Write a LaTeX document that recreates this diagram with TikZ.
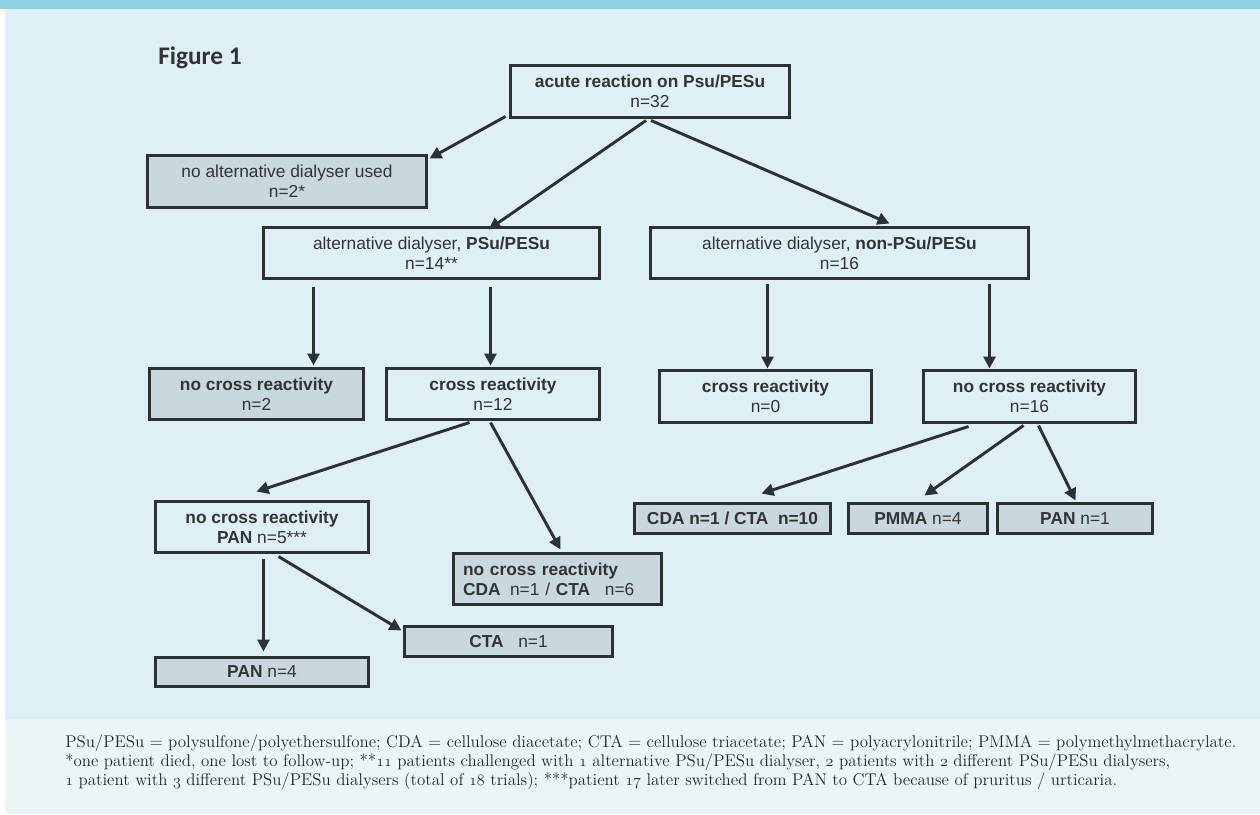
\documentclass[tikz,border=0pt]{standalone}
\usepackage{fontspec}
\usetikzlibrary{calc,arrows.meta}
\newfontfamily\boxfont{Liberation Sans}
\newfontfamily\figfont{Carlito}
\newcommand\osn[1]{{\fontencoding{OML}\fontfamily{lmm}\fontseries{m}\fontshape{it}\selectfont #1}}
\definecolor{topbar}{HTML}{8ECFE0}
\definecolor{panel}{HTML}{DEEFF6}
\definecolor{capbg}{HTML}{EBF5F8}
\definecolor{greyfill}{HTML}{C9D8DF}
\definecolor{ink}{HTML}{2E3134}
\definecolor{txt}{HTML}{333333}
\tikzset{
  box/.style={draw=ink, line width=2.2pt, rectangle, inner sep=0pt, outer sep=0pt,
    align=center, text=txt, font=\boxfont\fontsize{13}{15}\selectfont},
  wbox/.style={box, fill=panel},
  gbox/.style={box, fill=greyfill},
  arr/.style={draw=ink, line width=2.2pt, -{Triangle[length=9pt,width=9pt]}},
  captext/.style={anchor=base west, inner sep=0pt, text=black!85, font=\fontsize{12.7}{14}\selectfont},
}
\newcommand\bnode[7]{%
  \pgfmathsetmacro\bw{(#4-#2-3)*0.75}%
  \pgfmathsetmacro\bh{(#5-#3-3)*0.75}%
  \node[#6, minimum width=\bw pt, minimum height=\bh pt] (#1) at ({(#2+#4)/2},{(#3+#5)/2}) {#7};}
\begin{document}
\begin{tikzpicture}[x=0.75pt,y=-0.75pt]
\fill[white] (0,0) rectangle (1260,814);
\fill[topbar] (0,0) rectangle (1260,9);
\fill[panel] (5,9) rectangle (1260,719);
\fill[capbg] (5,719) rectangle (1260,814);
\useasboundingbox (0,0) rectangle (1260,814);

\node[anchor=base west, inner sep=0pt, text=txt, font=\figfont\bfseries\fontsize{19}{22}\selectfont] (fig) at (158,64) {Figure 1};

\bnode{top}{509}{64}{791}{119}{wbox}{\textbf{acute reaction on Psu/PESu}\\n=32}
\bnode{noalt}{146}{154}{428}{209}{gbox}{no alternative dialyser used\\n=2*}
\bnode{psu}{262}{226}{601}{280}{wbox}{alternative dialyser, \textbf{PSu/PESu}\\n=14**}
\bnode{nonpsu}{649}{226}{1030}{280}{wbox}{alternative dialyser, \textbf{non-PSu/PESu}\\n=16}
\bnode{ncr2}{148}{367}{365}{421}{gbox}{\textbf{no cross reactivity}\\n=2}
\bnode{cr12}{385}{367}{601}{421}{wbox}{\textbf{cross reactivity}\\n=12}
\bnode{cr0}{658}{369}{873}{424}{wbox}{\textbf{cross reactivity}\\n=0}
\bnode{ncr16}{922}{369}{1137}{424}{wbox}{\textbf{no cross reactivity}\\n=16}
\bnode{pan5}{154}{500}{370}{554}{wbox}{\textbf{no cross reactivity}\\\textbf{PAN} n=5***}
\bnode{ncrcda}{452}{552}{663}{606}{gbox,align=left,text width=141.75pt}{\textbf{no cross reactivity}\\\textbf{CDA}\hspace{0.55em}n=1 / \textbf{CTA}\hspace{0.85em}n=6}
\bnode{cta1}{403}{625}{614}{658}{gbox}{\textbf{CTA}\hspace{0.85em}n=1}
\bnode{pan4}{154}{656}{370}{688}{gbox}{\textbf{PAN} n=4}
\bnode{cdacta}{633}{502}{832}{535}{gbox}{\textbf{CDA n=1 / CTA\hspace{0.55em}n=10}}
\bnode{pmma}{847}{502}{989}{535}{gbox}{\textbf{PMMA} n=4}
\bnode{pan1}{996}{502}{1154}{535}{gbox}{\textbf{PAN} n=1}

\draw[arr] ($(top.south west)+(-5,-1)$) -- ($(noalt.north east)+(3,3)$);
\draw[arr] ($(top.south)+(-4,3)$) -- ($(psu.north west)+(225,2)$);
\draw[arr] ($(top.south)+(1,3)$) -- ($(nonpsu.north west)+(239,-4)$);
\draw[arr] ($(psu.south west)+(50,8)$) -- ($(ncr2.north west)+(164,-3)$);
\draw[arr] ($(psu.south west)+(227,8)$) -- ($(cr12.north west)+(104,-3)$);
\draw[arr] ($(nonpsu.south west)+(117,5)$) -- ($(cr0.north west)+(108,-2)$);
\draw[arr] ($(nonpsu.south west)+(339,5)$) -- ($(ncr16.north west)+(66,-2)$);
\draw[arr] ($(cr12.south west)+(83,3)$) -- ($(pan5.north west)+(101,-10)$);
\draw[arr] ($(cr12.south west)+(104,3)$) -- ($(ncrcda.north west)+(107,-4)$);
\draw[arr] ($(pan5.south west)+(108,6)$) -- ($(pan4.north west)+(108,-6)$);
\draw[arr] ($(pan5.south west)+(123,4)$) -- ($(cta1.north west)+(-3,4)$);
\draw[arr] ($(ncr16.south west)+(45,4)$) -- ($(cdacta.north west)+(127,-10)$);
\draw[arr] ($(ncr16.south west)+(100,3)$) -- ($(pmma.north west)+(76,-8)$);
\draw[arr] ($(ncr16.south west)+(115,3)$) -- ($(pan1.north west)+(78,-3)$);

\node[captext] (cap1) at (65,747) {PSu/PESu = polysulfone/polyethersulfone; CDA = cellulose diacetate; CTA = cellulose triacetate; PAN = polyacrylonitrile; PMMA = polymethylmethacrylate.};
\node[captext] (cap2) at (65,766) {*one patient died, one lost to follow-up; **\osn{11} patients challenged with \osn{1} alternative PSu/PESu dialyser, \osn{2} patients with \osn{2} different PSu/PESu dialysers,};
\node[captext] (cap3) at (65,785) {\osn{1} patient with \osn{3} different PSu/PESu dialysers (total of \osn{18} trials); ***patient \osn{17} later switched from PAN to CTA because of pruritus / urticaria.};
\end{tikzpicture}
\end{document}
